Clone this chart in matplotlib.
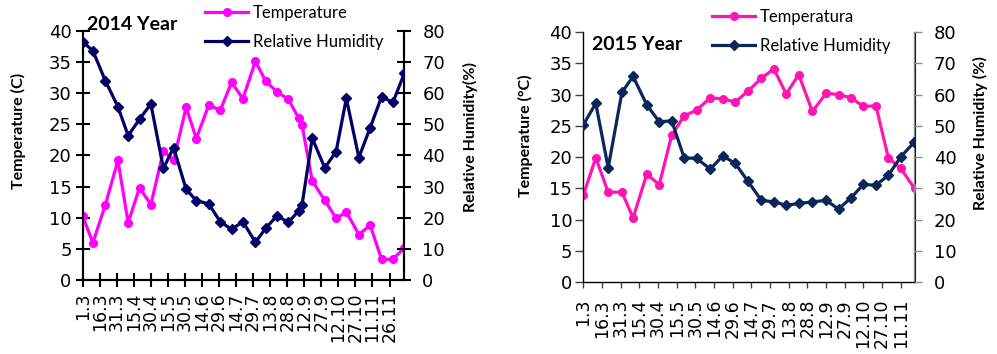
import matplotlib
matplotlib.use('Agg')
import matplotlib.pyplot as plt
from matplotlib.lines import Line2D

W, H = 997, 354

# ---------------- data ----------------
# days counted from 1 March
days_2014 = [0, 9, 20, 31, 40, 50, 60, 71, 80, 91, 100, 111, 121, 131, 141, 152, 161, 171,
             181, 190, 193, 202, 213, 223, 232, 243, 253, 263, 273, 283]
temp_2014 = [10.2, 6.0, 12.1, 19.2, 9.2, 14.8, 12.1, 20.7, 19.2, 27.7, 22.7, 28.1, 27.2, 31.7,
             29.1, 35.1, 31.9, 30.2, 29.0, 26.0, 24.9, 15.9, 12.8, 9.9, 10.9, 7.3, 8.8, 3.3, 3.3, 5.2]
rh_2014 = [76.5, 73.5, 63.9, 55.6, 46.3, 51.6, 56.5, 35.8, 42.5, 29.1, 25.5, 24.4, 18.7, 16.3,
           18.7, 12.1, 16.6, 20.6, 18.5, 22.2, 24.1, 45.5, 36.0, 41.2, 58.3, 39.3, 48.9, 58.8, 57.0, 66.3]

days_2015 = [0, 10, 20, 31, 40, 51, 61, 71, 81, 91, 102, 112, 122, 132, 143, 153, 163, 173,
             184, 195, 205, 215, 225, 235, 245, 255, 266]
temp_2015 = [13.9, 19.9, 14.4, 14.4, 10.3, 17.3, 15.6, 23.5, 26.6, 27.5, 29.5, 29.3, 28.8, 30.5,
             32.6, 34.1, 30.1, 33.2, 27.3, 30.2, 30.0, 29.5, 28.1, 28.2, 19.9, 18.2, 15.0]
rh_2015 = [50.3, 57.2, 36.6, 60.7, 65.8, 56.7, 51.3, 51.6, 39.8, 39.6, 36.2, 40.4, 38.0, 32.4,
           26.2, 25.7, 24.6, 25.2, 25.7, 26.2, 23.4, 27.0, 31.3, 31.0, 34.2, 40.1, 44.9]

date_labels_2014 = ['1.3', '16.3', '31.3', '15.4', '30.4', '15.5', '30.5', '14.6', '29.6', '14.7',
                    '29.7', '13.8', '28.8', '12.9', '27.9', '12.10', '27.10', '11.11', '26.11']
date_labels_2015 = ['1.3', '16.3', '31.3', '15.4', '30.4', '15.5', '30.5', '14.6', '29.6', '14.7',
                    '29.7', '13.8', '28.8', '12.9', '27.9', '12.10', '27.10', '11.11']
label_step = 15

temp_ticks = [0, 5, 10, 15, 20, 25, 30, 35, 40]
rh_ticks = [0, 10, 20, 30, 40, 50, 60, 70, 80]

plt.rcParams['font.family'] = ['Lato', 'DejaVu Sans']

fig = plt.figure(figsize=(W / 100, H / 100), dpi=100)


def rect(l, t, r, b):
    return [l / W, 1 - b / H, (r - l) / W, (b - t) / H]


def fx(x):
    return x / W


def fy(y):
    return 1 - y / H


TICK_FONT = 'DejaVu Sans'
TICK_FS = 13
XTICK_FS = 12.5
LAB_FS = 11.5


def panel(r, days, temp, rh, labels, pink, navy, style, title, tpos,
          ylab_t, ylab_r, ylab_t_pos, ylab_r_pos, leg_pos, temp_name):
    ax = fig.add_axes(rect(*r))
    ax2 = ax.twinx()
    ax.plot(days, temp, color=pink, lw=2.3, marker='o', ms=5.5, zorder=3)
    ax2.plot(days, rh, color=navy, lw=2.3, marker='D', ms=5.2, zorder=3)
    ax.set_xlim(0, days[-1])
    ax.set_ylim(0, 40)
    ax2.set_ylim(0, 80)
    ax.set_yticks(temp_ticks)
    ax2.set_yticks(rh_ticks)
    ax.set_xticks([label_step * i for i in range(len(labels))])
    ax.set_xticklabels(labels, rotation=90, fontsize=XTICK_FS, family=TICK_FONT)
    for lab in ax.get_yticklabels():
        lab.set_family(TICK_FONT)
    for lab in ax2.get_yticklabels():
        lab.set_family(TICK_FONT)
    ax.tick_params(axis='y', labelsize=TICK_FS)
    ax2.tick_params(axis='y', labelsize=TICK_FS)
    for a in (ax, ax2):
        a.spines['top'].set_visible(False)
        a.set_facecolor('none')
    if style == 'cross':
        for a in (ax, ax2):
            for s in a.spines.values():
                s.set_linewidth(1.5)
                s.set_color('black')
        ax.tick_params(axis='both', direction='inout', length=10, width=1.5, color='black')
        ax.tick_params(axis='y', pad=3)
        ax.tick_params(axis='x', pad=4)
        ax2.tick_params(axis='y', direction='inout', length=10, width=1.5, pad=8)
    else:
        for s in ('left', 'bottom'):
            ax.spines[s].set_color('#404040')
            ax.spines[s].set_linewidth(1.0)
        ax2.spines['right'].set_color('#8c8c8c')
        ax2.spines['right'].set_linewidth(1.0)
        ax.tick_params(axis='y', direction='out', length=6, width=1.0, color='#404040', pad=2)
        ax.tick_params(axis='x', direction='out', length=4, width=1.0, color='#404040', pad=8)
        ax2.tick_params(axis='y', direction='out', length=6, width=1.0, color='#8c8c8c', pad=8)
    fig.text(fx(tpos[0]), fy(tpos[1]), title, fontsize=14, fontweight='bold', ha='left', va='center')
    fig.text(fx(ylab_t_pos[0]), fy(ylab_t_pos[1]), ylab_t, fontsize=LAB_FS, fontweight='bold',
             rotation=90, ha='center', va='center')
    fig.text(fx(ylab_r_pos[0]), fy(ylab_r_pos[1]), ylab_r, fontsize=LAB_FS, fontweight='bold',
             rotation=90, ha='center', va='center')
    h1 = Line2D([], [], color=pink, lw=2.3, marker='o', ms=5.5)
    h2 = Line2D([], [], color=navy, lw=2.3, marker='D', ms=5.2)
    fig.legend([h1, h2], [temp_name, 'Relative Humidity'], loc='upper left',
               bbox_to_anchor=(fx(leg_pos[0]), fy(leg_pos[1])), frameon=False, fontsize=12,
               handlelength=2.6, handletextpad=0.25, labelspacing=0.75, borderpad=0,
               borderaxespad=0)
    return ax, ax2


panel((82.7, 30.7, 404.3, 280), days_2014, temp_2014, rh_2014, date_labels_2014,
      '#ff00ff', '#000066', 'cross', '2014 Year', (87, 25),
      'Temperature (C)', 'Relative Humidity(%)', (18, 131), (470, 137), (205, 5),
      'Temperature')
panel((583.3, 32, 914.5, 282.3), days_2015, temp_2015, rh_2015, date_labels_2015,
      '#ff14b4', '#0b2659', 'out', '2015 Year', (592, 44),
      'Temperature (°C)', 'Relative Humidity (%)', (525, 136), (980, 133), (712, 9),
      'Temperatura')

fig.savefig('out.png', dpi=100)
